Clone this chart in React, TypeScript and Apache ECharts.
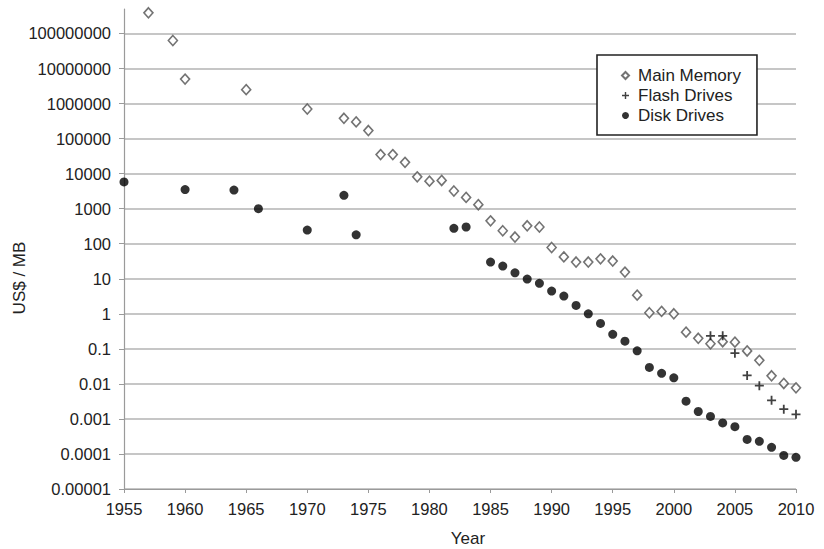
import React, { useEffect, useRef } from 'react';
import * as echarts from 'echarts';

const mainMemoryYears = [1957, 1959, 1960, 1965, 1970, 1973, 1974, 1975, 1976, 1977, 1978, 1979, 1980, 1981, 1982, 1983, 1984, 1985, 1986, 1987, 1988, 1989, 1990, 1991, 1992, 1993, 1994, 1995, 1996, 1997, 1998, 1999, 2000, 2001, 2002, 2003, 2004, 2005, 2006, 2007, 2008, 2009, 2010];
const mainMemoryValues = [390000000, 63000000, 5000000, 2500000, 700000, 380000, 300000, 170000, 35000, 35000, 21000, 8100, 6100, 6400, 3200, 2100, 1300, 450, 235, 155, 325, 300, 78, 42, 30, 30, 37, 32, 15.5, 3.4, 1.07, 1.17, 1.0, 0.3, 0.2, 0.14, 0.16, 0.155, 0.087, 0.047, 0.017, 0.0103, 0.0077];

const flashYears = [2003, 2004, 2005, 2006, 2007, 2008, 2009, 2010];
const flashValues = [0.235, 0.235, 0.075, 0.0174, 0.0089, 0.0034, 0.0019, 0.00135];

const diskYears = [1955, 1960, 1964, 1966, 1970, 1973, 1974, 1982, 1983, 1985, 1986, 1987, 1988, 1989, 1990, 1991, 1992, 1993, 1994, 1995, 1996, 1997, 1998, 1999, 2000, 2001, 2002, 2003, 2004, 2005, 2006, 2007, 2008, 2009, 2010];
const diskValues = [5800, 3500, 3400, 1000, 245, 2400, 180, 275, 300, 30, 23, 14.8, 9.8, 7.4, 4.45, 3.2, 1.74, 1.0, 0.53, 0.26, 0.166, 0.088, 0.0295, 0.02, 0.0149, 0.0032, 0.00163, 0.00118, 0.00077, 0.0006, 0.00026, 0.00023, 0.000155, 0.000091, 0.00008];

const yTickLabels = ['0.00001', '0.0001', '0.001', '0.01', '0.1', '1', '10', '100', '1000', '10000', '100000', '1000000', '10000000', '100000000'];
const seriesNames = ['Main Memory', 'Flash Drives', 'Disk Drives'];

const FONT = "'Liberation Sans', Arial, Helvetica, sans-serif";
const PLUS = 'path://M4,0 H6 V4 H10 V6 H6 V10 H4 V6 H0 V4 H4 Z';

function pairs(xs: number[], ys: number[]) {
  return xs.map((x, i) => [x, ys[i]]);
}

export default function App() {
  const ref = useRef<HTMLDivElement>(null);
  useEffect(() => {
    if (!ref.current) return;
    const chart = echarts.init(ref.current, undefined, { renderer: 'svg' });
    chart.setOption({
      animation: false,
      backgroundColor: '#fff',
      grid: { left: 124, right: 28, top: 9, bottom: 60, containLabel: false },
      xAxis: {
        type: 'value',
        min: 1955,
        max: 2010,
        interval: 5,
        axisLine: { show: true, lineStyle: { color: '#9a9a9a', width: 1.2 } },
        axisTick: { show: true, length: 4, lineStyle: { color: '#9a9a9a' } },
        splitLine: { show: false },
        axisLabel: {
          color: '#222',
          fontSize: 16.5,
          fontFamily: FONT,
          margin: 11,
          formatter: (v: number) => String(v),
        },
      },
      yAxis: {
        type: 'log',
        logBase: 10,
        min: 0.00001,
        max: 500000000,
        interval: 1,
        axisLine: { show: true, lineStyle: { color: '#9a9a9a', width: 1.2 } },
        axisTick: { show: true, length: 5, lineStyle: { color: '#9a9a9a' } },
        splitLine: { show: true, showMaxLine: false, lineStyle: { color: '#b3b3b3', width: 1.5 } },
        axisLabel: {
          color: '#222',
          fontSize: 16.5,
          fontFamily: FONT,
          margin: 13,
          showMaxLabel: false,
          formatter: (v: number) => {
            const l = Math.log10(v);
            const e = Math.round(l);
            if (Math.abs(l - e) > 0.01) return '';
            return yTickLabels[e + 5] ?? '';
          },
        },
      },
      legend: {
        orient: 'vertical',
        left: 597,
        top: 55,
        padding: [11, 16, 10, 24],
        itemWidth: 7,
        itemHeight: 7,
        itemGap: 1,
        borderColor: '#222',
        borderWidth: 1.6,
        backgroundColor: '#fff',
        textStyle: { fontSize: 17, color: '#222', fontFamily: FONT, lineHeight: 19, padding: [0, 0, 0, 4] },
        data: seriesNames,
      },
      series: [
        {
          name: seriesNames[0],
          type: 'scatter',
          symbol: 'diamond',
          symbolSize: [9, 10],
          itemStyle: { color: '#fff', borderColor: '#505050', borderWidth: 1.6 },
          data: pairs(mainMemoryYears, mainMemoryValues),
          z: 3,
        },
        {
          name: seriesNames[1],
          type: 'scatter',
          symbol: PLUS,
          symbolSize: 9,
          itemStyle: { color: '#111' },
          data: pairs(flashYears, flashValues),
          z: 4,
        },
        {
          name: seriesNames[2],
          type: 'scatter',
          symbol: 'circle',
          symbolSize: 9,
          itemStyle: { color: '#000' },
          data: pairs(diskYears, diskValues),
          z: 2,
        },
      ],
      graphic: [
        {
          type: 'text',
          x: 19,
          y: 278,
          rotation: Math.PI / 2,
          style: { text: 'US$ / MB', fontSize: 17, fontFamily: FONT, fill: '#222', align: 'center', verticalAlign: 'middle' },
        },
        {
          type: 'text',
          x: 468,
          y: 538,
          style: { text: 'Year', fontSize: 17, fontFamily: FONT, fill: '#222', align: 'center', verticalAlign: 'middle' },
        },
      ],
    });
    return () => chart.dispose();
  }, []);
  return <div ref={ref} style={{ position: 'fixed', left: 0, top: 0, width: 824, height: 549 }} />;
}
